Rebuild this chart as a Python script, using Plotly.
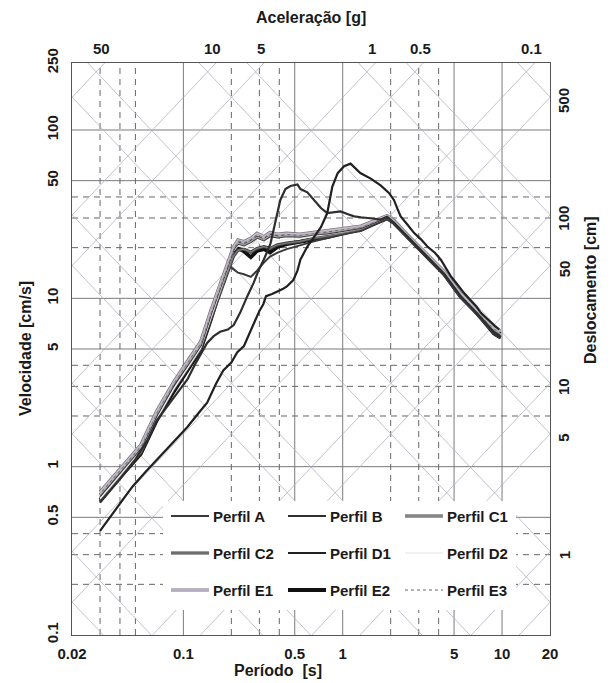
import math
import plotly.graph_objects as go

# ---------------- data ----------------
G_CM = 981.0          # cm/s^2 per g
T_MIN, T_MAX = 0.02, 20.0
V_MIN, V_MAX = 0.1, 250.0

X_TICKS = [0.02, 0.1, 0.5, 1, 5, 10, 20]
X_TICK_TEXT = ["0.02", "0.1", "0.5", "1", "5", "10", "20"]
Y_TICKS = [0.1, 0.5, 1, 5, 10, 50, 100, 250]
Y_TICK_TEXT = ["0.1", "0.5", "1", "5", "10", "50", "100", "250"]
ACC_LABELS = [50, 10, 5, 1, 0.5, 0.1]          # g
DISP_LABELS = [500, 100, 50, 10, 5, 1]         # cm

T_SOLID = [0.1, 0.5, 1, 5, 10]
T_DASH = [0.03, 0.04, 0.05, 0.2, 0.3, 0.4, 2, 3, 4]
V_SOLID = [0.5, 1, 5, 10, 50, 100]
V_DASH = [0.2, 0.3, 0.4, 2, 3, 4, 20, 30, 40]
ACC_LINES = [m * 10 ** e for e in range(-5, 3) for m in (1, 5)]    # g
DISP_LINES = [m * 10 ** e for e in range(-4, 4) for m in (1, 5)]   # cm

T_GROUP = [0.03, 0.04, 0.054, 0.068, 0.087, 0.11, 0.128, 0.148, 0.17, 0.188,
           0.206, 0.22, 0.24, 0.265, 0.29, 0.32, 0.35, 0.39, 0.445, 0.54,
           0.66, 0.8, 1.0, 1.3, 1.56, 1.9, 2.1, 2.67, 3.4, 4.33, 5.5, 7.0, 8.9, 9.8]

V_A = [0.66, 0.89, 1.25, 1.98, 2.95, 4.15, 5.2, 7.8, 11.6, 15.9, 14.9, 14.2, 13.9, 13.4,
       14.6, 16.3, 17.7, 18.7, 19.6, 20.7, 21.8, 22.8, 23.9, 25.3, 27.3, 29.6, 27.8,
       21.8, 17.3, 13.7, 10.1, 8.0, 6.15, 5.8]
V_C1 = [0.68, 0.94, 1.30, 2.04, 3.1, 4.26, 5.3, 8.1, 11.8, 15.9, 19.8, 21.3, 20.8, 21.8,
        23.1, 22.3, 23.6, 23.2, 23.6, 23.4, 24.1, 24.5, 25.3, 26.4, 28.3, 30.5, 28.5,
        22.4, 18.0, 14.2, 10.5, 8.3, 6.5, 6.15]
V_C2 = [0.62, 0.87, 1.21, 1.93, 2.9, 4.04, 5.0, 7.47, 10.8, 14.1, 17.75, 19.3, 19.6, 18.8,
        19.8, 20.3, 19.8, 20.8, 21.3, 21.8, 22.8, 23.4, 24.5, 25.7, 27.8, 30.1, 28.2,
        22.2, 17.75, 14.0, 10.3, 8.1, 6.28, 5.96]
V_D2 = [0.645, 0.89, 1.245, 1.93, 2.9, 4.04, 5.05, 7.57, 11.15, 14.8, 19.1, 20.6, 20.1,
        20.6, 21.6, 21.3, 21.8, 22.0, 22.4, 22.7, 23.4, 24.0, 24.9, 26.1, 28.0, 30.3,
        28.4, 22.3, 17.85, 14.1, 10.4, 8.2, 6.4, 6.07]
V_E1 = [0.71, 0.975, 1.35, 2.15, 3.2, 4.47, 5.53, 8.4, 12.05, 15.66, 20.3, 22.3, 21.8,
        22.8, 24.4, 23.3, 24.7, 24.1, 24.4, 24.1, 24.7, 25.1, 25.9, 26.9, 28.8, 31.1,
        29.0, 22.8, 18.25, 14.5, 10.73, 8.52, 6.7, 6.38]
V_E2 = [0.634, 0.867, 1.19, 1.88, 2.79, 3.94, 4.9, 7.36, 11.05, 15.14, 18.8, 19.8, 19.0,
        17.54, 19.1, 19.6, 18.7, 20.2, 21.0, 21.6, 22.4, 23.1, 24.4, 25.5, 27.5, 29.9,
        28.0, 22.0, 17.54, 13.9, 10.2, 8.1, 6.17, 5.85]
V_E3 = [0.69, 0.953, 1.32, 2.09, 3.15, 4.36, 5.43, 8.2, 11.86, 15.66, 20.0, 21.8, 21.3,
        22.4, 23.9, 22.9, 24.2, 23.7, 24.0, 23.8, 24.4, 24.8, 25.6, 26.7, 28.5, 30.8,
        28.8, 22.7, 18.16, 14.4, 10.6, 8.4, 6.6, 6.28]

T_B = [0.03, 0.04, 0.05, 0.06, 0.068, 0.078, 0.087, 0.097, 0.106, 0.12, 0.141, 0.155,
       0.17, 0.19, 0.207, 0.227, 0.252, 0.276, 0.297, 0.32, 0.352, 0.378, 0.406, 0.437,
       0.47, 0.52, 0.543, 0.6, 0.66, 0.73, 0.8, 0.88, 0.97, 1.08, 1.18, 1.3, 1.43, 1.58,
       1.73, 1.9, 2.1, 2.67, 3.4, 4.33, 5.5, 7.0, 8.9, 9.8]
V_B = [0.612, 0.845, 1.105, 1.46, 1.88, 2.25, 2.58, 2.95, 3.3, 4.15, 5.43, 5.96, 6.33,
       6.52, 6.94, 8.2, 10.3, 12.35, 14.72, 17.0, 21.1, 28.0, 38.4, 44.6, 46.5, 47.5,
       44.6, 42.6, 38.4, 34.4, 32.1, 32.4, 32.8, 31.6, 30.7, 30.3, 30.1, 29.7, 29.35,
       30.5, 28.1, 22.3, 17.75, 14.0, 10.3, 8.1, 6.28, 5.9]

T_D1 = [0.03, 0.038, 0.048, 0.058, 0.068, 0.085, 0.106, 0.125, 0.141, 0.16, 0.178, 0.2,
        0.218, 0.24, 0.26, 0.28, 0.3, 0.318, 0.33, 0.36, 0.39, 0.42, 0.446, 0.49, 0.52,
        0.543, 0.6, 0.66, 0.73, 0.8, 0.86, 0.93, 1.02, 1.12, 1.2, 1.29, 1.5, 1.73, 1.95,
        2.1, 2.2, 2.31, 2.5, 2.81, 3.1, 3.4, 3.8, 4.14, 4.5, 4.78, 5.2, 5.7, 6.37, 6.9,
        7.36, 8.0, 8.5, 9.0, 9.6]
V_D1 = [0.416, 0.569, 0.763, 0.934, 1.094, 1.385, 1.72, 2.09, 2.40, 3.1, 3.73, 4.15,
        4.79, 5.21, 6.17, 7.37, 8.42, 9.26, 10.3, 10.62, 10.93, 11.35, 11.77, 12.85,
        14.6, 17.0, 20.3, 23.2, 26.5, 32.1, 46.0, 55.4, 60.9, 63.1, 59.6, 55.5, 51.4,
        46.9, 42.3, 38.3, 34.2, 30.7, 28.0, 24.4, 22.4, 20.3, 18.6, 16.9, 14.8, 13.5,
        12.2, 10.9, 9.7, 8.95, 8.2, 7.6, 7.17, 6.86, 6.55]

SERIES = [
    # name, T, V, layers (color, width, dash)
    ("Perfil E2", T_GROUP, V_E2, [("#111111", 3.8, "solid")]),
    ("Perfil A", T_GROUP, V_A, [("#3a3a3a", 2.0, "solid")]),
    ("Perfil C2", T_GROUP, V_C2, [("#404040", 3.2, "solid"), ("#7c7c7c", 1.3, "solid")]),
    ("Perfil D2", T_GROUP, V_D2, [("#ededed", 1.6, "solid")]),
    ("Perfil C1", T_GROUP, V_C1, [("#3c3c3c", 3.2, "solid"), ("#a0a0a0", 1.3, "solid")]),
    ("Perfil E1", T_GROUP, V_E1, [("#7d7483", 3.0, "solid"), ("#cbbfd3", 1.4, "solid")]),
    ("Perfil E3", T_GROUP, V_E3, [("#b3b3b3", 2.0, "dot")]),
    ("Perfil B", T_B, V_B, [("#2e2e2e", 2.2, "solid")]),
    ("Perfil D1", T_D1, V_D1, [("#202020", 2.2, "solid")]),
]
LEGEND_ORDER = ["Perfil A", "Perfil B", "Perfil C1",
                "Perfil C2", "Perfil D1", "Perfil D2",
                "Perfil E1", "Perfil E2", "Perfil E3"]

# ---------------- figure ----------------
fig = go.Figure()
FONT = "Liberation Sans, Arial, sans-serif"
L, R, TOP, BOT = 72, 550, 63, 635          # plot-area edges in pixels


def add_lines(xs, ys, color, width, dash):
    fig.add_trace(go.Scatter(x=xs, y=ys, mode="lines", hoverinfo="skip",
                             line=dict(color=color, width=width, dash=dash),
                             showlegend=False))


# rectangular grid
def grid(vals, vertical, color, width, dash):
    xs, ys = [], []
    for v in vals:
        if vertical:
            xs += [v, v, None]
            ys += [V_MIN, V_MAX, None]
        else:
            xs += [T_MIN, T_MAX, None]
            ys += [v, v, None]
    add_lines(xs, ys, color, width, dash)


grid(T_SOLID, True, "#7a7a7a", 1, "solid")
grid(V_SOLID, False, "#7a7a7a", 1, "solid")
grid(T_DASH, True, "#666666", 1, "6px,5px")
grid(V_DASH, False, "#666666", 1, "6px,5px")

# diagonal (tripartite) lines
xs, ys = [], []
for a in ACC_LINES:
    for t in (T_MIN / 10, T_MAX * 10):
        xs.append(t)
        ys.append(a * G_CM * t / (2 * math.pi))
    xs.append(None)
    ys.append(None)
add_lines(xs, ys, "#adadbd", 0.75, "solid")
xs, ys = [], []
for d in DISP_LINES:
    for t in (T_MIN / 10, T_MAX * 10):
        xs.append(t)
        ys.append(2 * math.pi * d / t)
    xs.append(None)
    ys.append(None)
add_lines(xs, ys, "#adadbd", 0.75, "solid")

# spectra
for name, T, V, layers in SERIES:
    for color, width, dash in layers:
        fig.add_trace(go.Scatter(x=T, y=V, mode="lines", name=name, hoverinfo="skip",
                                 line=dict(color=color, width=width, dash=dash),
                                 showlegend=False))

# ---------------- custom legend ----------------
style = {n: lay for n, _, _, lay in SERIES}
PW, PH = float(R - L), float(BOT - TOP)
def px2x(px):
    return (px - L) / PW
def px2y(py):
    return (BOT - py) / PH

shapes = [dict(type="rect", xref="paper", yref="paper", layer="above",
               x0=px2x(163), x1=px2x(516), y0=px2y(610), y1=px2y(501),
               fillcolor="white", line=dict(width=0))]
annotations = []
col_x = [171, 288, 405]
row_y = [516, 553, 590]
for i, name in enumerate(LEGEND_ORDER):
    cx = col_x[i % 3]
    cy = row_y[i // 3]
    for color, width, dash in style[name]:
        shapes.append(dict(type="line", xref="paper", yref="paper", layer="above",
                           x0=px2x(cx), x1=px2x(cx + 38), y0=px2y(cy), y1=px2y(cy),
                           line=dict(color=color, width=width,
                                     dash=("dot" if dash == "dot" else "solid"))))
    annotations.append(dict(xref="paper", yref="paper", x=px2x(cx + 40), y=px2y(cy),
                            xanchor="left", yanchor="middle", showarrow=False,
                            text="<b>%s</b>" % name,
                            font=dict(family=FONT, size=15, color="#1a1a1a")))

# secondary scales (top: acceleration, right: displacement)
for a in ACC_LABELS:
    t = 2 * math.pi * V_MAX / (a * G_CM)
    annotations.append(dict(xref="x", yref="paper", x=math.log10(t), y=1,
                            xanchor="center", yanchor="bottom", yshift=4, xshift=-3,
                            showarrow=False, text="<b>%g</b>" % a,
                            font=dict(family=FONT, size=15, color="#1a1a1a")))
for d in DISP_LABELS:
    v = 2 * math.pi * d / T_MAX
    annotations.append(dict(xref="paper", yref="y", x=1, y=math.log10(v),
                            xanchor="center", yanchor="middle", xshift=14, yshift=-4,
                            textangle=-90, showarrow=False, text="<b>%g</b>" % d,
                            font=dict(family=FONT, size=15, color="#1a1a1a")))

# axis titles
TF = dict(family=FONT, size=16, color="#1a1a1a")
annotations += [
    dict(xref="paper", yref="paper", x=0.5, y=1, yanchor="middle", yshift=TOP - 17,
         showarrow=False, text="<b>Aceleração [g]</b>", font=TF),
    dict(xref="paper", yref="paper", x=px2x(278), y=0, yanchor="middle",
         yshift=-(670 - BOT), showarrow=False, text="<b>Período&nbsp; [s]</b>", font=TF),
    dict(xref="paper", yref="paper", x=0, y=0.5, xanchor="center", xshift=25 - L,
         textangle=-90, showarrow=False, text="<b>Velocidade [cm/s]</b>", font=TF),
    dict(xref="paper", yref="paper", x=1, y=px2y(290), xanchor="center", xshift=590 - R,
         textangle=-90, showarrow=False, text="<b>Deslocamento [cm]</b>", font=TF),
]

fig.update_layout(
    template="none",
    width=612, height=683,
    margin=dict(l=L, r=612 - R, t=TOP, b=683 - BOT, pad=0, autoexpand=False),
    paper_bgcolor="white", plot_bgcolor="white",
    showlegend=False,
    shapes=shapes, annotations=annotations,
    xaxis=dict(type="log", range=[math.log10(T_MIN), math.log10(T_MAX)],
               automargin=False,
               tickvals=X_TICKS, ticktext=X_TICK_TEXT, showgrid=False, zeroline=False,
               showline=True, linecolor="#555555", linewidth=1, mirror=True, ticks="",
               ticklabelstandoff=5,
               tickfont=dict(family=FONT, size=15, color="#1a1a1a", weight="bold")),
    yaxis=dict(type="log", range=[math.log10(V_MIN), math.log10(V_MAX)],
               automargin=False,
               tickvals=Y_TICKS, ticktext=Y_TICK_TEXT, showgrid=False, zeroline=False,
               showline=True, linecolor="#555555", linewidth=1, mirror=True, ticks="",
               tickangle=-90, ticklabelstandoff=7,
               tickfont=dict(family=FONT, size=15, color="#1a1a1a", weight="bold")),
)

fig.write_html("out.html", config={"displayModeBar": False},
               post_script="document.body.style.margin='0px';")
